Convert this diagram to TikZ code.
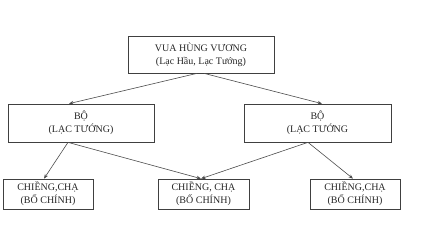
\documentclass[tikz,border=0pt]{standalone}
\usepackage{fontspec}
\setmainfont{Liberation Serif}
\usetikzlibrary{calc,arrows.meta}
\begin{document}
\begin{tikzpicture}[x=1pt,y=-1pt,
  box/.style={draw=black!75,line width=0.7pt,inner sep=0pt,align=center,font=\fontsize{10}{13}\selectfont,text=black!85},
  link/.style={draw=black!70,line width=0.6pt,-{Stealth[length=4.5pt,width=3.5pt]}}]
\useasboundingbox (0,0) rectangle (439,236);
\node[box,minimum width=146pt,minimum height=37pt] (top) at (201,54.5) {VUA HÙNG VƯƠNG\\(Lạc Hầu, Lạc Tướng)};
\node[box,minimum width=146pt,minimum height=38pt] (lb) at (81,123) {BỘ\\(LẠC TƯỚNG)};
\node[box,minimum width=147pt,minimum height=38pt] (rb) at (317.5,123) {BỘ\\(LẠC TƯỚNG};
\node[box,minimum width=90pt,minimum height=30pt] (bl) at (48,194) {CHIỀNG,CHẠ\\(BỐ CHÍNH)};
\node[box,minimum width=91pt,minimum height=30pt] (bm) at (203.5,194) {CHIỀNG, CHẠ\\(BỐ CHÍNH)};
\node[box,minimum width=90pt,minimum height=30pt] (br) at (355,194) {CHIỀNG,CHẠ\\(BỐ CHÍNH)};
\draw[link] ($(top.south)+(-4,0)$) -- ($(lb.north)+(-12,0)$);
\draw[link] ($(top.south)+(3,0)$) -- ($(rb.north)+(4.5,0)$);
\draw[link] ($(lb.south)+(-13,0)$) -- ($(bl.north)+(-4,0)$);
\draw[link] ($(lb.south)+(-13,0)$) -- ($(bm.north)+(-2.5,0)$);
\draw[link] ($(rb.south)+(-9.5,0)$) -- ($(bm.north)+(-2.5,0)$);
\draw[link] ($(rb.south)+(-9.5,0)$) -- ($(br.north)+(-2,0)$);
\end{tikzpicture}
\end{document}
